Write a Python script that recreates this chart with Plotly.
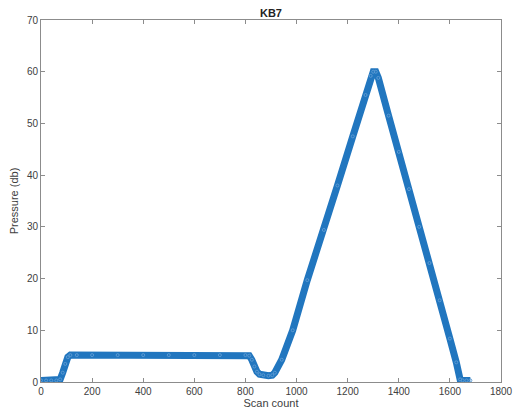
import plotly.graph_objects as go

scan_count = [0, 20, 40, 60, 75, 85, 95, 105, 115, 140, 200, 300, 400, 500, 600, 700, 800,
              815, 825, 835, 845, 855, 870, 890, 905, 915, 942, 985, 1042, 1107,
              1160, 1220, 1270, 1290, 1300, 1310, 1320, 1360, 1400, 1440, 1480, 1520, 1560,
              1600, 1625, 1640, 1650, 1665, 1680]
pressure = [0.3, 0.3, 0.3, 0.3, 0.5, 1.8, 3.5, 4.8, 5.2, 5.2, 5.2, 5.2, 5.2, 5.2, 5.2, 5.2, 5.2,
            5.1, 4.3, 3.0, 2.0, 1.5, 1.3, 1.2, 1.3, 1.8, 4.3, 10.0, 19.7, 29.4,
            38.0, 47.5, 55.5, 59.2, 60.0, 60.0, 58.8, 51.5, 44.5, 37.3, 30.0, 23.0, 15.8,
            8.4, 3.8, 0.5, 0.3, 0.3, 0.3]

title_text = "KB7"
x_label = "Scan count"
y_label = "Pressure (db)"

blue = "#2176bf"
inner = "#5b9ad3"
font_family = "Liberation Sans, Arial, sans-serif"

fig = go.Figure()
fig.add_trace(go.Scatter(
    x=scan_count, y=pressure, mode="lines",
    line=dict(color=blue, width=7),
    hoverinfo="skip", showlegend=False,
))
fig.add_trace(go.Scatter(
    x=scan_count, y=pressure, mode="markers",
    marker=dict(symbol="circle-open", size=3, color=inner, line=dict(width=1, color=inner)),
    hoverinfo="x+y", showlegend=False,
))

axis_common = dict(
    showgrid=False, zeroline=False, showline=True, linecolor="#8c8c8c", linewidth=1,
    mirror="ticks", ticks="inside", ticklen=4, tickcolor="#8c8c8c", automargin=False,
    ticklabeloverflow="allow",
    tickfont=dict(family=font_family, size=10, color="#404040"),
)

fig.update_layout(
    width=514, height=416,
    margin=dict(l=41, r=13, t=20, b=34),
    paper_bgcolor="white", plot_bgcolor="white",
    title=dict(text="<b>" + title_text + "</b>", x=0.5, xanchor="center", xref="paper",
               y=1, yref="paper", yanchor="bottom", pad=dict(b=3),
               font=dict(family=font_family, size=11, color="#222")),
    xaxis=dict(range=[0, 1800], dtick=200, tick0=0,
               title=dict(text=x_label, standoff=3,
                          font=dict(family=font_family, size=11, color="#404040")),
               **axis_common),
    yaxis=dict(range=[0, 70], dtick=10, tick0=0,
               title=dict(text=y_label, standoff=6,
                          font=dict(family=font_family, size=11, color="#404040")),
               **axis_common),
)

fig.write_html("out.html",
               config={"displayModeBar": False},
               post_script="document.body.style.margin='0';document.body.style.overflow='hidden';")
